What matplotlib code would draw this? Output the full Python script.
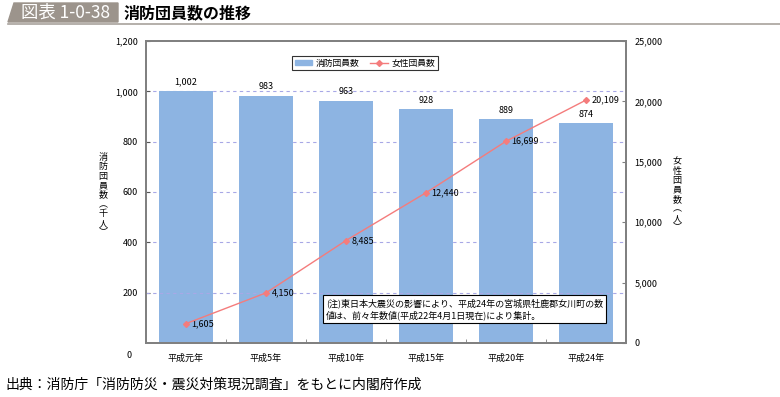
import matplotlib.pyplot as plt
from matplotlib.patches import Polygon, Patch
from matplotlib.lines import Line2D

plt.rcParams['font.family'] = ['Noto Sans CJK JP', 'DejaVu Sans']

# データ
categories = ["平成元年", "平成5年", "平成10年", "平成15年", "平成20年", "平成24年"]
danin = [1002, 983, 963, 928, 889, 874]          # 消防団員数（千人）
josei = [1605, 4150, 8485, 12440, 16699, 20109]  # 女性団員数（人）
left_ticks = [200, 400, 600, 800, 1000, 1200]
right_ticks = [0, 5000, 10000, 15000, 20000, 25000]

bar_color = "#8DB4E2"
line_color = "#F47C7C"
spine_color = "#808080"
grid_color = "#A8A8E6"

fig = plt.figure(figsize=(7.8, 3.97), dpi=100)

# --- タイトル部分 ---
fig.patches.append(Polygon([[8/780, 1-22/397], [14/780, 1-3/397], [118/780, 1-3/397], [118/780, 1-22/397]],
                           closed=True, transform=fig.transFigure, color="#9C948C"))
fig.text(21/780, 1-13/397, "図表 1-0-38", color="white", fontsize=12.5, va="center", ha="left")
fig.text(124/780, 1-13/397, "消防団員数の推移", color="black", fontsize=11.5, va="center", ha="left",
         fontweight="bold")
fig.add_artist(Line2D([8/780, 1], [1-24/397, 1-24/397], color="#A8A29C", lw=1.2,
                      transform=fig.transFigure))

ax = fig.add_axes([146/780, 1-343/397, 480/780, 302/397])
x = list(range(len(categories)))

ax.bar(x, danin, width=0.68, color=bar_color, zorder=2)
for xi, v in zip(x, danin):
    ax.text(xi, v + 18, f"{v:,}", ha="center", va="bottom", fontsize=6.5)

# 目盛線（200の線だけ棒の上に見える）
for g in left_ticks[:-1]:
    ax.axhline(g, color=grid_color, lw=0.8, ls=(0, (3, 3)), zorder=3 if g == 200 else 1)

ax.set_xlim(-0.5, 5.5)
ax.set_ylim(0, 1200)
ax.set_yticks(left_ticks)
ax.set_yticklabels([f"{t:,}" for t in left_ticks], fontsize=6.5)
ax.text(-0.03, -0.04, "0", transform=ax.transAxes, ha="right", va="center", fontsize=6.5)
ax.set_xticks(x)
ax.set_xticklabels(categories, fontsize=6.5)
ax.set_xticks([i + 0.5 for i in x[:-1]], minor=True)
ax.tick_params(axis="x", which="major", length=0, pad=8)
ax.tick_params(axis="x", which="minor", length=3, direction="in", color=spine_color)
ax.tick_params(axis="y", length=3, direction="in", color="#555555", pad=6)
for s in ax.spines.values():
    s.set_color(spine_color)
    s.set_linewidth(1.3)

ax2 = ax.twinx()
ax2.plot(x, josei, color=line_color, lw=1, marker="D", markersize=3, zorder=4)
for xi, v in zip(x, josei):
    ax2.text(xi + 0.07, v, f"{v:,}", ha="left", va="center", fontsize=6.5)
ax2.set_ylim(0, 25000)
ax2.set_yticks(right_ticks)
ax2.set_yticklabels([f"{t:,}" for t in right_ticks], fontsize=6.5)
ax2.tick_params(axis="y", length=3, direction="in", color=spine_color, pad=6)
for s in ax2.spines.values():
    s.set_color(spine_color)
    s.set_linewidth(1.3)

# 軸ラベル（縦書き）
fig.text(103/780, 1-195/397, "\n".join("消防団員数︵千人︶"), ha="center", va="center",
         fontsize=6.5, linespacing=1.05)
fig.text(677/780, 1-195/397, "\n".join("女性団員数︵人︶"), ha="center", va="center",
         fontsize=6.5, linespacing=1.05)

# 凡例
handles = [Patch(color=bar_color, label="消防団員数"),
           Line2D([], [], color=line_color, lw=1, marker="D", markersize=3, label="女性団員数")]
leg = ax.legend(handles=handles, loc="center", bbox_to_anchor=(0.456, 0.927), ncol=2,
                fontsize=6.3, frameon=True, fancybox=False, edgecolor="black",
                handlelength=2.0, handleheight=0.6, handletextpad=0.4, borderpad=0.3,
                columnspacing=1.2)
leg.get_frame().set_linewidth(0.8)
leg.set_zorder(10)

# 注記
ax2.text((326 - 146) / 480, (343 - 309) / 302,
         "(注)東日本大震災の影響により、平成24年の宮城県牡鹿郡女川町の数\n値は、前々年数値(平成22年4月1日現在)により集計。",
         transform=ax2.transAxes, ha="left", va="center", fontsize=6.5, linespacing=1.3,
         bbox=dict(boxstyle="square,pad=0.3", facecolor="white", edgecolor="black", lw=0.8),
         zorder=10)

fig.text(5/780, 1-385/397, "出典：消防庁「消防防災・震災対策現況調査」をもとに内閣府作成",
         ha="left", va="center", fontsize=10)

fig.savefig("out.png", dpi=100)
